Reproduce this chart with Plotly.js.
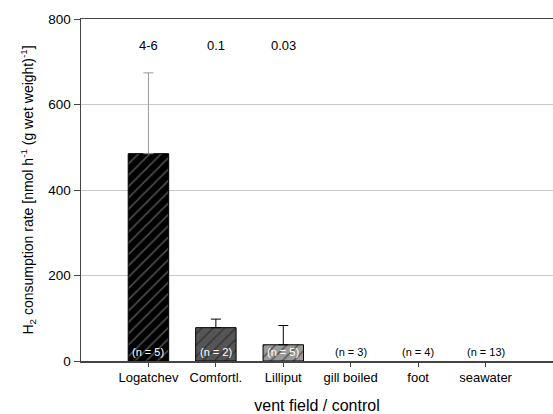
<!DOCTYPE html>
<html><head><meta charset="utf-8">
<script src="https://cdn.plot.ly/plotly-3.0.1.min.js"></script>
<style>body{margin:0;padding:0;background:#fff}#chart{width:553px;height:414px}</style>
</head><body><div id="chart"></div>
<script>
const categories = ["Logatchev", "Comfortl.", "Lilliput", "gill boiled", "foot", "seawater"];
const rates = [485, 78, 38, 0, 0, 0];
const errPlus = [189, 20, 45, 0, 0, 0];
const sampleLabels = ["(n = 5)", "(n = 2)", "(n = 5)", "(n = 3)", "(n = 4)", "(n = 13)"];
const topLabels = ["4-6", "0.1", "0.03"];
const topLabelY = 737;
const nLabelY = 20;

const positions = categories.map((c, i) => i);
const fills = ["#000000", "#555555", "#9a9a9a"];
const hatchColors = ["#9a9a9a", "#1a1a1a", "#1a1a1a"];
const errColors = ["#999999", "#000000", "#000000"];
const nColors = ["#ffffff", "#ffffff", "#ffffff", "#000000", "#000000", "#000000"];

const traces = [];
for (let i = 0; i < 3; i++) {
  traces.push({
    type: "bar",
    x: [positions[i]],
    y: [rates[i]],
    width: 0.6,
    marker: {
      color: fills[i],
      line: {color: "#000", width: 1},
      pattern: {shape: "/", fgcolor: hatchColors[i], bgcolor: fills[i], size: 8, solidity: 0.2, fillmode: "overlay"}
    },
    error_y: {type: "data", symmetric: false, array: [errPlus[i]], arrayminus: [0], color: errColors[i], thickness: 1, width: 5},
    hoverinfo: "skip",
    showlegend: false
  });
}

const annotations = [];
topLabels.forEach((t, i) => annotations.push({x: positions[i], y: topLabelY, text: t, showarrow: false, font: {size: 13, color: "#000"}}));
sampleLabels.forEach((t, i) => annotations.push({x: positions[i], y: nLabelY, text: t, showarrow: false, font: {size: 11, color: nColors[i]}}));

const layout = {
  width: 553, height: 414,
  margin: {l: 81, r: 0, t: 19, b: 53},
  paper_bgcolor: "#fff", plot_bgcolor: "#fff",
  font: {family: "Liberation Sans, Arial, sans-serif", color: "#000"},
  barmode: "overlay",
  xaxis: {
    range: [-1, 6],
    tickvals: positions, ticktext: categories,
    showline: true, linecolor: "#444", linewidth: 1.5, mirror: true,
    ticks: "outside", ticklen: 4, tickcolor: "#444",
    tickfont: {size: 13},
    showgrid: false, zeroline: false,
    title: {text: "vent field / control", font: {size: 16}, standoff: 18}
  },
  yaxis: {
    range: [0, 800], tickvals: [0, 200, 400, 600, 800],
    showline: true, linecolor: "#444", linewidth: 1.5,
    ticks: "outside", ticklen: 6, tickcolor: "#444",
    tickfont: {size: 13.5},
    showgrid: true, gridcolor: "#c8c8c8", gridwidth: 1, zeroline: false,
    title: {text: "H<sub>2</sub> consumption rate [nmol h<sup>-1</sup> (g wet weight)<sup>-1</sup>]", font: {size: 14}, standoff: 11}
  },
  annotations: annotations
};
Plotly.newPlot("chart", traces, layout, {staticPlot: true});
</script></body></html>
